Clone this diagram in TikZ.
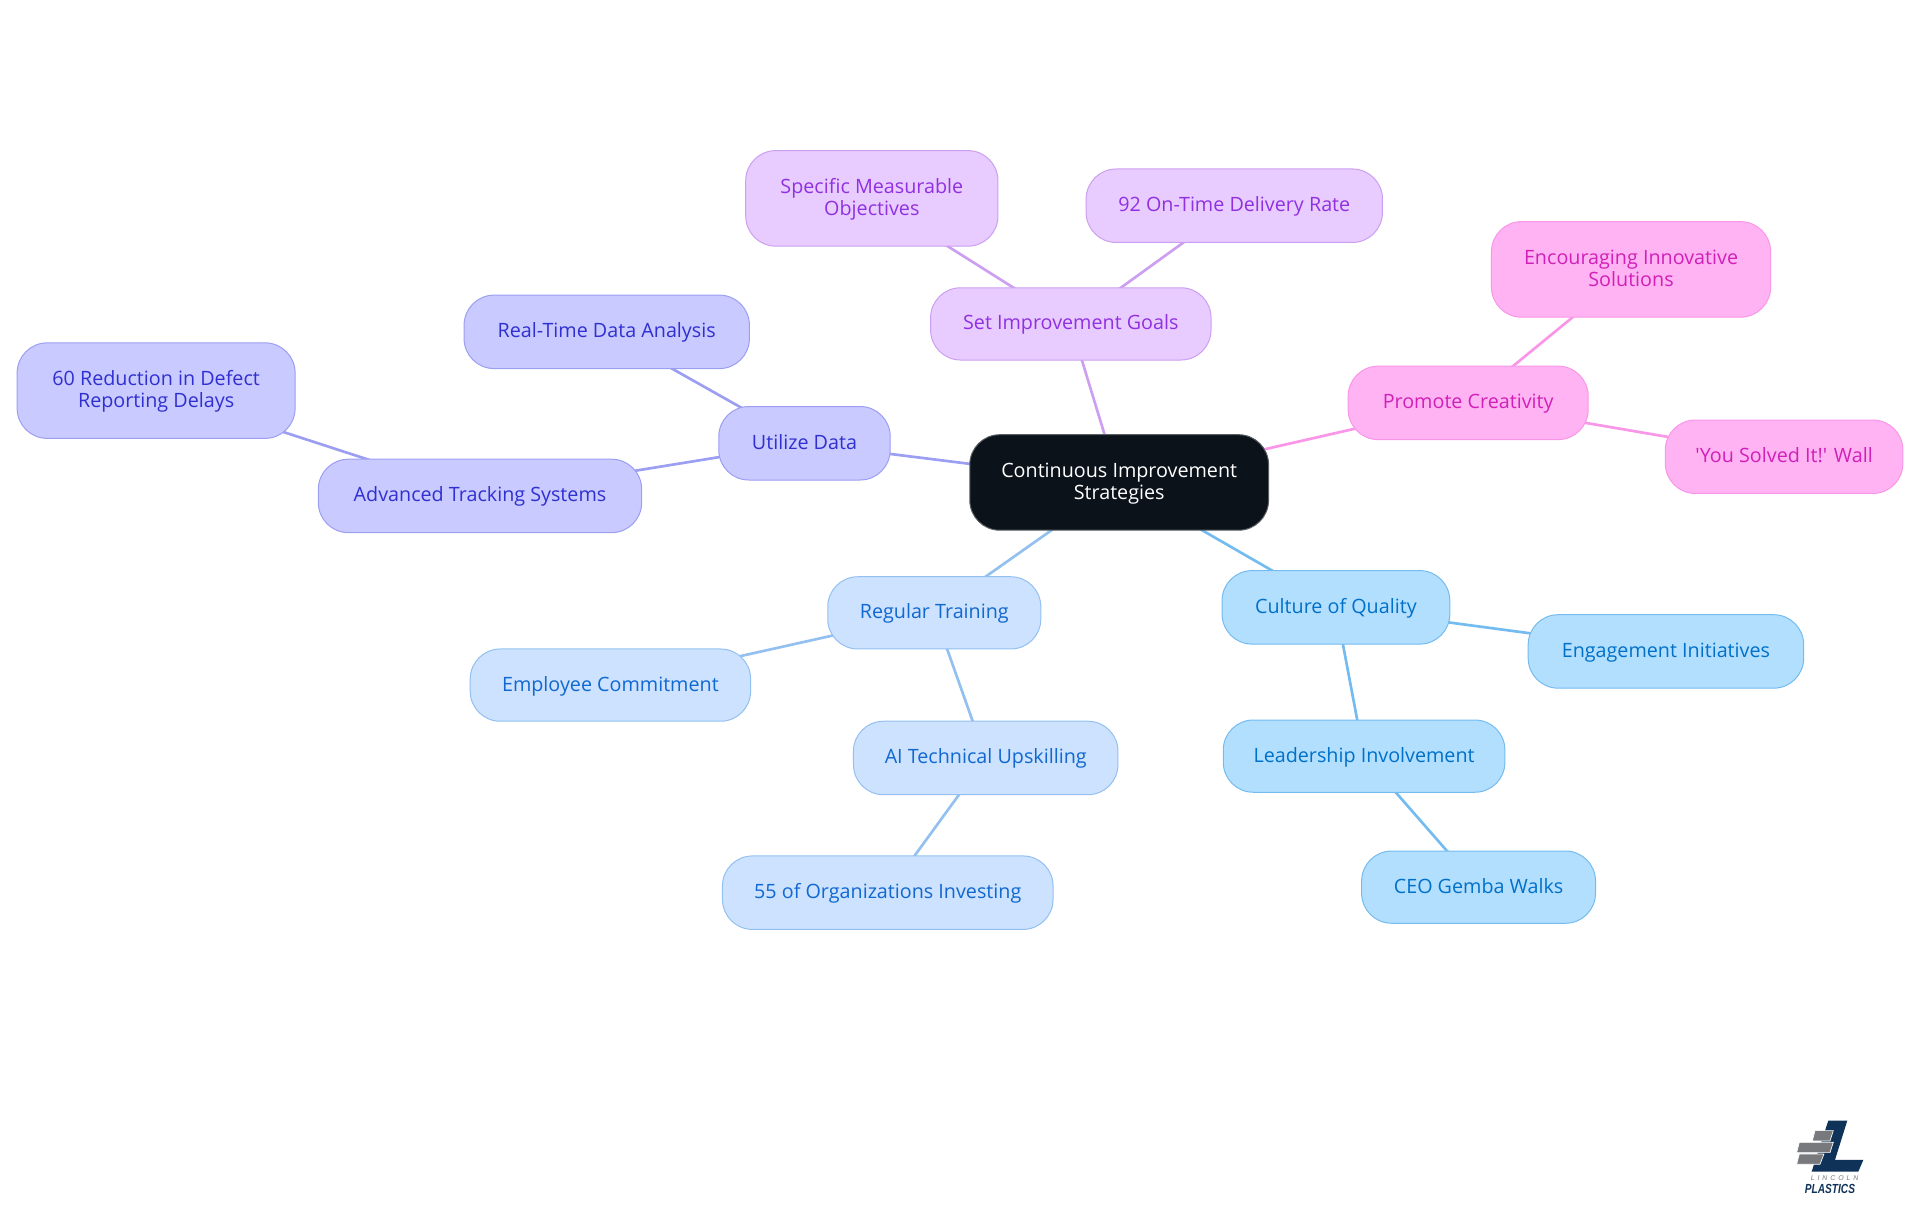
\documentclass[tikz,border=0pt]{standalone}
\usepackage{fontspec}
\setmainfont{Open Sans}
\newfontfamily\plainf{Open Sans}
\newfontfamily\logofont{Liberation Sans}
\usetikzlibrary{backgrounds}
\definecolor{cenF}{HTML}{0B121A}\definecolor{cenD}{HTML}{5A5F64}
\definecolor{purF}{HTML}{E8CCFF}\definecolor{purD}{HTML}{CC9FF0}\definecolor{purT}{HTML}{9030E0}
\definecolor{pinF}{HTML}{FFB3F3}\definecolor{pinD}{HTML}{FA96E8}\definecolor{pinT}{HTML}{D020B8}
\definecolor{indF}{HTML}{C9CAFF}\definecolor{indD}{HTML}{9C9EF2}\definecolor{indT}{HTML}{3030D0}
\definecolor{lblF}{HTML}{CCE2FF}\definecolor{lblD}{HTML}{94C0F0}\definecolor{lblT}{HTML}{1068D0}
\definecolor{skyF}{HTML}{B3DFFF}\definecolor{skyD}{HTML}{74BCF0}\definecolor{skyT}{HTML}{0070C8}
\definecolor{navy}{HTML}{0F3358}\definecolor{brick}{HTML}{77797C}
\tikzset{
  box/.style={rounded corners=22.5pt,line width=0.75pt,align=center,inner sep=0pt,
    font=\fontsize{14.8}{16.5}\selectfont},
  cen/.style={box,fill=cenF,draw=cenD,text=white},
  pur/.style={box,fill=purF,draw=purD,text=purT},
  pin/.style={box,fill=pinF,draw=pinD,text=pinT},
  ind/.style={box,fill=indF,draw=indD,text=indT},
  lbl/.style={box,fill=lblF,draw=lblD,text=lblT},
  sky/.style={box,fill=skyF,draw=skyD,text=skyT},
  lnk/.style={line width=2pt},
  logoL/.style={fill=navy},
  logoB/.style={fill=brick,draw=white,line width=0.5pt},
}
\newcommand{\mn}[7]{\node[#1,minimum width=#5*0.91837pt,minimum height=#6*0.91837pt] (#2) at (#3,#4) {\rule{0pt}{12.6pt}#7\vphantom{Ag}};}
\begin{document}
\begin{tikzpicture}[x=0.91837pt,y=-0.91837pt]
\useasboundingbox (0,0) rectangle (1568,992.2);
\mn{cen}{c}{914}{394}{244}{78}{Continuous Improvement\\Strategies}
\mn{pur}{goals}{874.5}{264.5}{229}{59}{Set Improvement Goals}
\mn{pur}{smo}{712}{162}{206}{78}{Specific Measurable\\Objectives}
\mn{pur}{otd}{1008}{168}{242}{60}{92 On-Time Delivery Rate}
\mn{pin}{crea}{1199}{329}{196}{60}{Promote Creativity}
\mn{pin}{enc}{1332}{220}{228}{78}{Encouraging Innovative\\Solutions}
\mn{pin}{wall}{1457}{373}{194}{60}{\plainf 'You Solved It!' Wall}
\mn{ind}{data}{657}{362}{140}{60}{Utilize Data}
\mn{ind}{rt}{495.5}{271}{233}{60}{Real-Time Data Analysis}
\mn{ind}{adv}{392}{405}{264}{60}{Advanced Tracking Systems}
\mn{ind}{red}{127.5}{319}{227}{78}{60 Reduction in Defect\\Reporting Delays}
\mn{lbl}{train}{763}{500.5}{174}{59}{Regular Training}
\mn{lbl}{emp}{498.5}{559.5}{229}{59}{Employee Commitment}
\mn{lbl}{ai}{805}{619}{216}{60}{AI Technical Upskilling}
\mn{lbl}{org}{725}{729}{270}{60}{55 of Organizations Investing}
\mn{sky}{qual}{1091}{496}{186}{60}{Culture of Quality}
\mn{sky}{eng}{1360.5}{532}{225}{60}{Engagement Initiatives}
\mn{sky}{lead}{1114}{617.5}{230}{59}{Leadership Involvement}
\mn{sky}{ceo}{1207.5}{724.5}{191}{59}{CEO Gemba Walks}
\begin{scope}[on background layer]
\draw[lnk,purD] (c.center)--(goals.center);
\draw[lnk,purD] (goals.center)--(smo.center);
\draw[lnk,purD] (goals.center)--(otd.center);
\draw[lnk,pinD] (c.center)--(crea.center);
\draw[lnk,pinD] (crea.center)--(enc.center);
\draw[lnk,pinD] (crea.center)--(wall.center);
\draw[lnk,indD] (c.center)--(data.center);
\draw[lnk,indD] (data.center)--(rt.center);
\draw[lnk,indD] (data.center)--(adv.center);
\draw[lnk,indD] (adv.center)--(red.center);
\draw[lnk,lblD] (c.center)--(train.center);
\draw[lnk,lblD] (train.center)--(emp.center);
\draw[lnk,lblD] (train.center)--(ai.center);
\draw[lnk,lblD] (ai.center)--(org.center);
\draw[lnk,skyD] (c.center)--(qual.center);
\draw[lnk,skyD] (qual.center)--(eng.center);
\draw[lnk,skyD] (qual.center)--(lead.center);
\draw[lnk,skyD] (lead.center)--(ceo.center);
\end{scope}
% logo (coordinates are pixels of a 3x crop)
\begin{scope}[shift={(1437.3,898.3)},x=0.25pt,y=-0.25pt]
\fill[logoL] (205,62)--(262,62)--(225,180)--(310,180)--(295,215)--(155,215)--cycle;
\draw[logoB] (165,92)--(220,92)--(210,123)--(157,123)--cycle;
\draw[logoB] (118,127)--(220,127)--(210,158)--(110,158)--cycle;
\draw[logoB] (118,162)--(192,162)--(180,193)--(110,193)--cycle;
\node[inner sep=0pt,text=brick,font=\logofont\itshape\fontsize{5.2}{6}\selectfont] (lincoln) at (224,235) {L\hspace{2.2pt}I\hspace{2.2pt}N\hspace{2.2pt}C\hspace{2.2pt}O\hspace{2.2pt}L\hspace{2.2pt}N};
\node[inner sep=0pt,text=navy,yscale=1.3,transform shape,font=\logofont\bfseries\itshape\fontsize{7.6}{9}\selectfont] (plastics) at (210,266) {PLASTICS};
\end{scope}
\end{tikzpicture}
\end{document}
